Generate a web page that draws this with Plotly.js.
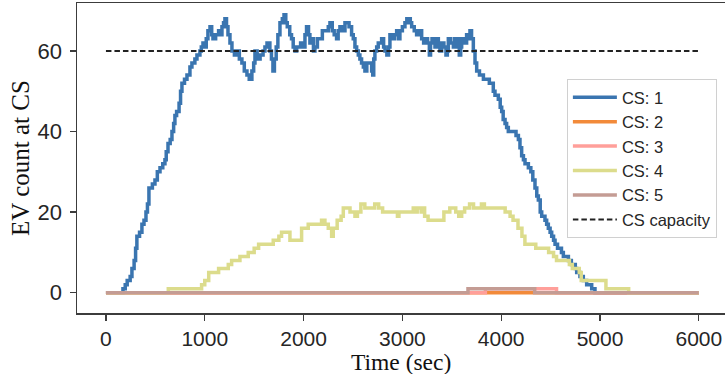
<!DOCTYPE html>
<html>
<head>
<meta charset="utf-8">
<script src="https://cdn.plot.ly/plotly-3.0.1.min.js"></script>
<style>html,body{margin:0;padding:0;background:#fff;}#chart{width:725px;height:374px;}</style>
</head>
<body>
<div id="chart"></div>
<script>
// CS 1 (step changes: time, count)
const cs1T = [0,172,195,215,245,263,285,300,313,340,364,385,405,420,435,470,496,520,547,575,597,610,628,650,668,685,698,715,740,755,769,795,820,850,870,900,921,951,965,982,1000,1015,1032,1053,1070,1083,1110,1140,1160,1174,1190,1204,1220,1235,1255,1275,1300,1325,1350,1376,1400,1427,1450,1477,1495,1508,1530,1560,1590,1609,1630,1659,1675,1690,1705,1723,1740,1761,1785,1802,1820,1835,1860,1878,1895,1913,1930,1970,1996,2014,2030,2050,2064,2085,2100,2115,2140,2190,2250,2267,2290,2310,2334,2350,2368,2400,2419,2460,2486,2503,2520,2537,2554,2570,2587,2605,2621,2640,2689,2700,2710,2722,2740,2756,2790,2810,2824,2843,2860,2874,2900,2920,2942,2960,2975,3000,3026,3045,3080,3094,3120,3144,3170,3195,3215,3235,3255,3273,3285,3300,3330,3350,3364,3380,3398,3420,3441,3455,3465,3490,3516,3530,3565,3576,3590,3600,3625,3650,3670,3684,3700,3718,3735,3752,3780,3820,3880,3920,3937,3971,3990,4005,4020,4039,4055,4072,4150,4174,4190,4207,4225,4241,4275,4300,4320,4342,4360,4376,4395,4410,4443,4460,4477,4495,4511,4530,4545,4570,4610,4629,4680,4710,4750,4764,4797,4831,4865,4916,4949,6000];
const cs1V = [0,1,2,3,4,6,8,11,14,15,17,18,20,22,26,27,28,30,31,32,33,35,37,38,40,42,44,45,47,50,52,53,54,56,57,58,59,60,61,62,61,63,65,66,64,63,64,65,64,66,67,68,66,64,62,60,59,60,58,57,55,54,53,55,57,60,58,59,60,61,62,60,58,55,58,61,64,67,68,69,67,66,64,63,61,60,61,62,61,64,66,64,62,63,60,61,63,65,66,67,65,64,63,65,66,65,67,66,64,63,61,60,59,58,57,56,55,57,55,54,58,60,61,62,63,61,60,59,61,64,63,64,65,63,65,66,67,68,67,66,65,64,65,63,62,63,62,59,62,63,61,63,62,60,62,61,59,60,63,62,61,63,61,59,61,63,62,64,63,65,63,60,57,55,54,53,52,50,49,48,46,45,43,42,41,40,39,38,36,34,33,32,31,30,28,26,24,23,20,19,18,17,16,15,14,13,12,11,10,9,8,7,6,5,4,3,2,1,0,0];
// CS 2
const cs2T = [0,6000];
const cs2V = [0,0];
// CS 3
const cs3T = [0,3840,4560,6000];
const cs3V = [0,1,0,0];
// CS 4
const cs4T = [0,631,968,1000,1040,1140,1238,1272,1356,1440,1500,1545,1693,1750,1777,1862,1980,2047,2182,2216,2250,2284,2300,2340,2380,2402,2470,2520,2545,2580,2620,2720,2760,2800,2950,2965,3110,3125,3150,3190,3210,3225,3260,3420,3480,3540,3570,3600,3630,3680,3720,3800,3830,4040,4090,4120,4170,4210,4240,4350,4480,4530,4560,4690,4720,4790,4810,5060,5290,6000];
const cs4V = [0,1,2,3,5,6,7,8,9,10,11,12,13,14,15,13,16,17,18,17,16,14,16,18,19,21,20,19,20,22,21,22,21,20,19,20,21,20,21,20,21,19,18,20,21,20,19,20,21,22,21,22,21,20,19,18,16,14,12,11,10,9,8,7,6,5,3,1,0,0];
// CS 5
const cs5T = [0,3664,4339,6000];
const cs5V = [0,1,0,0];
// capacity
const capT = [0,6000];
const capV = [60,60];

const names = ["CS: 1","CS: 2","CS: 3","CS: 4","CS: 5"];
const colors = ["#3a75b0","#f28a3a","#ff9f9a","#dcdc8c","#c49c94"];
const seriesT = [cs1T,cs2T,cs3T,cs4T,cs5T];
const seriesV = [cs1V,cs2V,cs3V,cs4V,cs5V];
const xTitle = "Time (sec)";
const yTitle = "EV count at CS";

const traces = seriesT.map((t,i)=>({
  x:t, y:seriesV[i], type:"scatter", mode:"lines", name:names[i],
  legendgroup:"g"+i,
  line:{shape:"hv", color:colors[i], width:3.5}
}));
traces.push({x:capT, y:capV, type:"scatter", mode:"lines", name:"CS capacity",
  legendgroup:"gc",
  line:{color:"#222222", width:2, dash:"5.5px,3px"}});

const sans = "Liberation Sans, Arial, sans-serif";
const serif = "Liberation Serif, Times New Roman, serif";
const layout = {
  width:725, height:374,
  margin:{l:77, r:0, t:3, b:61, pad:0},
  paper_bgcolor:"#ffffff", plot_bgcolor:"#ffffff",
  showlegend:true,
  legend:{x:0.756, y:0.755, xanchor:"left", yanchor:"top",
    bgcolor:"rgba(255,255,255,0.9)", bordercolor:"#d0d0d0", borderwidth:1,
    font:{family:sans, size:16.5, color:"#262626"},
    tracegroupgap:0, itemwidth:44},
  xaxis:{range:[-293,6265], tickvals:[0,1000,2000,3000,4000,5000,6000],
    ticktext:["0","1000","2000","3000","4000","5000","6000"],
    showgrid:false, zeroline:false, showline:true, mirror:true,
    linecolor:"#3c3c3c", linewidth:1.5, ticks:"outside", ticklen:6, tickwidth:1.3, tickcolor:"#3c3c3c",
    ticklabelstandoff:0,
    tickfont:{family:sans, size:21, color:"#262626"}},
  yaxis:{range:[-5.04,71.9], tickvals:[0,20,40,60], ticktext:["0","20","40","60"],
    showgrid:false, zeroline:false, showline:true,
    linecolor:"#3c3c3c", linewidth:1.5, ticks:"outside", ticklen:6, tickwidth:1.3, tickcolor:"#3c3c3c",
    ticklabelstandoff:3,
    tickfont:{family:sans, size:22, color:"#262626"},
    title:{text:yTitle, font:{family:serif, size:25, color:"#111"}, standoff:1}},
  annotations:[{text:xTitle, xref:"paper", yref:"paper", x:0.5, y:-48.5/310,
    xanchor:"center", yanchor:"middle", showarrow:false,
    font:{family:serif, size:23.5, color:"#111"}}]
};
Plotly.newPlot("chart", traces, layout, {staticPlot:true, displayModeBar:false});
</script>
</body>
</html>
